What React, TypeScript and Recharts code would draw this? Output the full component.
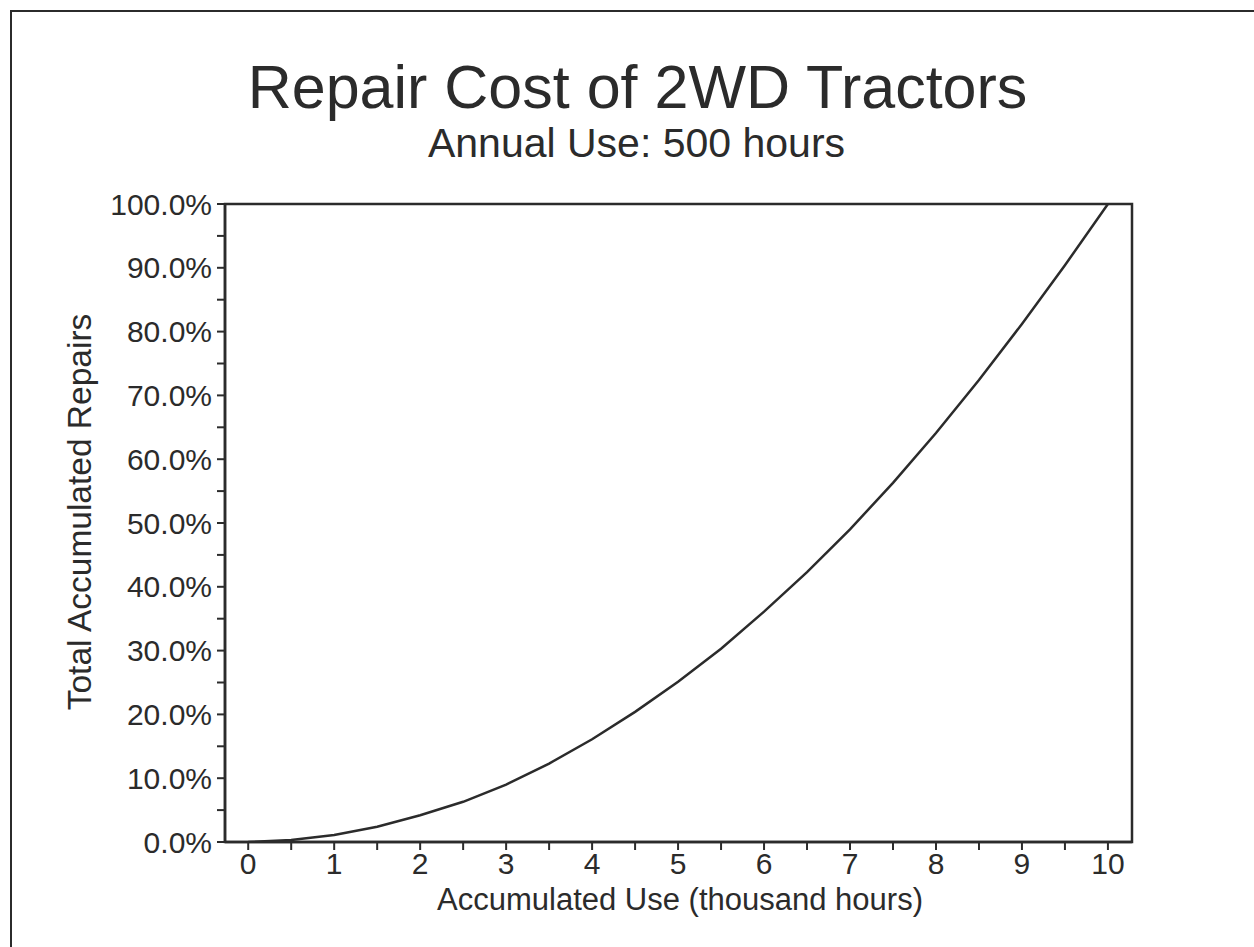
import React from 'react';
import { LineChart, Line, XAxis, YAxis, ReferenceArea } from 'recharts';

const usage = [0, 0.5, 1, 1.5, 2, 2.5, 3, 3.5, 4, 4.5, 5, 5.5, 6, 6.5, 7, 7.5, 8, 8.5, 9, 9.5, 10];
const repairs = [0, 0.3, 1.1, 2.4, 4.2, 6.3, 9.0, 12.3, 16.1, 20.4, 25.1, 30.3, 36.1, 42.3, 49.0, 56.3, 64.1, 72.4, 81.2, 90.4, 100];
const xTicks = [0, 0.5, 1, 1.5, 2, 2.5, 3, 3.5, 4, 4.5, 5, 5.5, 6, 6.5, 7, 7.5, 8, 8.5, 9, 9.5, 10];
const yTicks = [0, 5, 10, 15, 20, 25, 30, 35, 40, 45, 50, 55, 60, 65, 70, 75, 80, 85, 90, 95, 100];

const title = 'Repair Cost of 2WD Tractors';
const subtitle = 'Annual Use: 500 hours';
const xTitle = 'Accumulated Use (thousand hours)';
const yTitle = 'Total Accumulated Repairs';

const data = usage.map((x, i) => ({ x, y: repairs[i] }));

const INK = '#2b2b2b';
const FONT = '"Liberation Sans", Arial, Helvetica, sans-serif';

export default function App() {
  return (
    <div style={{ position: 'absolute', left: 0, top: 0, width: 1254, height: 947, overflow: 'hidden', background: '#fff' }}>
      <div style={{ position: 'absolute', left: 10, top: 10, width: 1400, height: 1100, border: `2.5px solid ${INK}` }} />
      <div style={{ position: 'absolute', left: 0, top: 0 }}>
        <LineChart width={1254} height={947} data={data} margin={{ top: 204, right: 122, bottom: 45, left: 25 }}>
          <XAxis
            type="number"
            dataKey="x"
            domain={[-0.27, 10.28]}
            allowDataOverflow
            ticks={xTicks}
            interval={0}
            tickFormatter={(v: number) => (Number.isInteger(v) ? String(v) : '')}
            height={60}
            tickSize={8}
            tickMargin={3}
            stroke={INK}
            strokeWidth={2.5}
            tick={{ fill: INK, fontSize: 30, fontFamily: FONT }}
            tickLine={{ stroke: INK, strokeWidth: 2 }}
          />
          <YAxis
            type="number"
            domain={[0, 100]}
            allowDataOverflow
            ticks={yTicks}
            interval={0}
            tickFormatter={(v: number) => (v % 10 === 0 ? v.toFixed(1) + '%' : '')}
            width={200}
            tickSize={8}
            tickMargin={5}
            stroke={INK}
            strokeWidth={2.5}
            tick={{ fill: INK, fontSize: 30, fontFamily: FONT }}
            tickLine={{ stroke: INK, strokeWidth: 2 }}
          />
          <ReferenceArea x1={-0.27} x2={10.28} y1={0} y2={100} stroke={INK} strokeWidth={2.5} fill="none" fillOpacity={0} ifOverflow="visible" />
          <Line type="linear" dataKey="y" stroke={INK} strokeWidth={2.5} dot={false} isAnimationActive={false} />
        </LineChart>
      </div>
      <svg width={1254} height={947} style={{ position: 'absolute', left: 0, top: 0, pointerEvents: 'none' }}>
        <text x={637.5} y={108} textAnchor="middle" fontSize={61} fontFamily={FONT} fill={INK}>{title}</text>
        <text x={636.5} y={157} textAnchor="middle" fontSize={41} fontFamily={FONT} fill={INK}>{subtitle}</text>
        <text x={680} y={910} textAnchor="middle" fontSize={31} fontFamily={FONT} fill={INK}>{xTitle}</text>
        <text x={91} y={512} textAnchor="middle" fontSize={33.5} fontFamily={FONT} fill={INK} transform="rotate(-90 91 512)">{yTitle}</text>
      </svg>
    </div>
  );
}
